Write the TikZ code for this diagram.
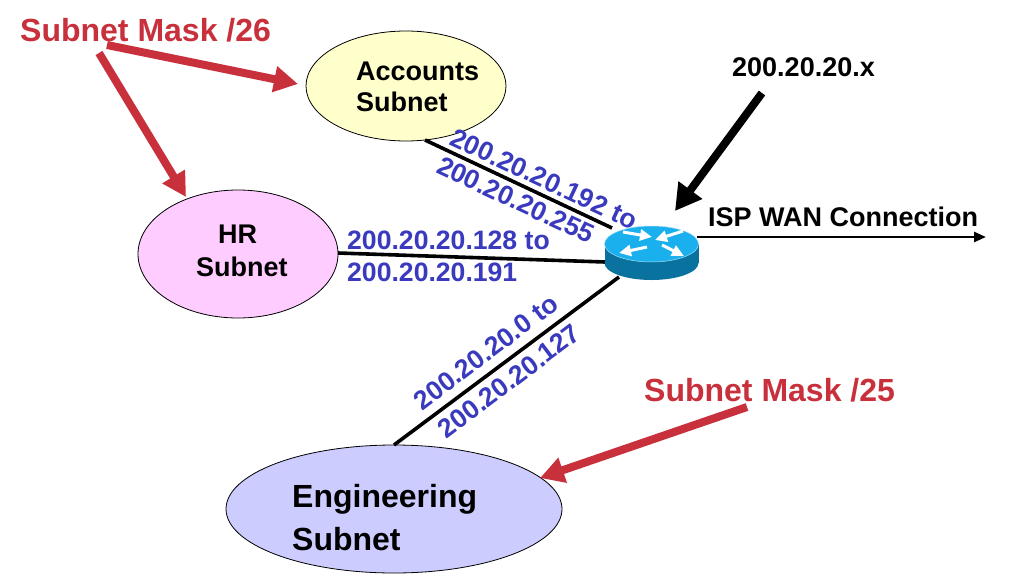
\documentclass[tikz,border=0pt]{standalone}
\usepackage{fontspec}
\setmainfont{Liberation Sans}
\usetikzlibrary{arrows.meta,shapes.geometric}
\definecolor{redarrow}{HTML}{C8303C}
\definecolor{bluetxt}{HTML}{3A3ABE}
\definecolor{routertop}{HTML}{1AB0EE}
\definecolor{routerside}{HTML}{0A729E}
\definecolor{acctfill}{HTML}{FFFFCC}
\definecolor{hrfill}{HTML}{FFCCFF}
\definecolor{engfill}{HTML}{CCCCFF}
\tikzset{
  subnet/.style={ellipse,draw=black,line width=0.8pt,inner sep=0pt,minimum width=#1},
  wire/.style={draw=black,line width=3.6pt},
  callout/.style={draw=redarrow,line width=8pt,-{Triangle[length=24pt,width=25pt]}},
  masklabel/.style={font=\bfseries\fontsize{32}{35}\selectfont,text=redarrow,inner sep=0pt},
  rangelabel/.style={font=\bfseries\fontsize{26.6}{30}\selectfont,text=bluetxt,inner sep=0pt},
  inlabel/.style={font=\bfseries\fontsize{27}{30}\selectfont,inner sep=0pt,anchor=west},
  biglabel/.style={font=\bfseries\fontsize{32}{35}\selectfont,inner sep=0pt,anchor=west},
  routerarrow/.style={draw=white,line width=3pt,-{Triangle[length=12pt,width=11pt]}},
}
\begin{document}
\begin{tikzpicture}[x=1pt,y=-1pt]
\useasboundingbox (0,0) rectangle (1010,576);
\fill[white] (0,0) rectangle (1010,576);
% ellipses
\node[subnet=200pt,minimum height=110pt,fill=acctfill] (acc) at (406,86) {};
\node[subnet=200pt,minimum height=128pt,fill=hrfill] (hr) at (238,254) {};
\node[subnet=336pt,minimum height=128pt,fill=engfill] (eng) at (394,509) {};
\node[inlabel] (acct) at (356,71) {Accounts};
\node[inlabel] (acct2) at (356,102) {Subnet};
\node[inlabel] (hrt) at (218,234) {HR};
\node[inlabel] (hrt2) at (196,267) {Subnet};
\node[biglabel] (engt) at (292,499) {Engineering};
\node[biglabel] (engt2) at (292,539) {Subnet};
% connector ends
\coordinate (acce) at (425,140);
\coordinate (ra) at (612,228);
\coordinate (hre) at (338,253);
\coordinate (rh) at (605,262);
\coordinate (enge) at (394,445);
\coordinate (re) at (619,277);
\coordinate (rw) at (697,237);
\coordinate (wan) at (986,237);
\draw[wire] (acce) -- (ra);
\draw[wire] (hre) -- (rh);
\draw[wire] (enge) -- (re);
\draw[draw=black,line width=2.6pt,-{Triangle[length=12pt,width=10pt]}] (rw) -- (wan);
% router
\node[ellipse,fill=routerside,minimum width=94pt,minimum height=34pt,inner sep=0pt] (rbot) at (651.5,263) {};
\fill[routerside] (604.5,244) rectangle (698.5,263);
\node[ellipse,fill=routertop,draw=white!60!routertop,line width=0.5pt,minimum width=94pt,minimum height=36pt,inner sep=0pt] (rtop) at (651.5,244) {};
\draw[routerarrow] (623,232) -- (652,237);
\draw[routerarrow] (683,231) -- (655,240);
\draw[routerarrow] (662,245) -- (684,256);
\draw[routerarrow] (647,247) -- (619,253);
% labels
\node[masklabel,anchor=west] (m26) at (20,30) {Subnet Mask /26};
\node[masklabel,anchor=west] (m25) at (644,390) {Subnet Mask /25};
\node[inlabel] (addr) at (732,67) {200.20.20.x};
\node[inlabel] (isp) at (708,217) {ISP WAN Connection};
\node[rangelabel,anchor=west] (r1) at (347,240) {200.20.20.128 to};
\node[rangelabel,anchor=west] (r2) at (347,272) {200.20.20.191};
\node[rangelabel,rotate=-25] (r3) at (544,179) {200.20.20.192 to};
\node[rangelabel,rotate=-25] (r4) at (516,200) {200.20.20.255};
\node[rangelabel,rotate=37] (r5) at (486,352) {200.20.20.0 to};
\node[rangelabel,rotate=37] (r6) at (509,381) {200.20.20.127};
% callouts
\coordinate (c1) at (107,45);
\coordinate (c1e) at (298,84);
\coordinate (c2) at (99,53);
\coordinate (c2e) at (186,197);
\coordinate (c3) at (747,407);
\coordinate (c3e) at (540,478);
\coordinate (c4) at (762,93);
\coordinate (c4e) at (675,211);
\draw[callout] (c1) -- (c1e);
\draw[callout] (c2) -- (c2e);
\draw[callout] (c3) -- (c3e);
\draw[draw=black,line width=8pt,-{Triangle[length=26pt,width=28pt]}] (c4) -- (c4e);
\end{tikzpicture}
\end{document}
